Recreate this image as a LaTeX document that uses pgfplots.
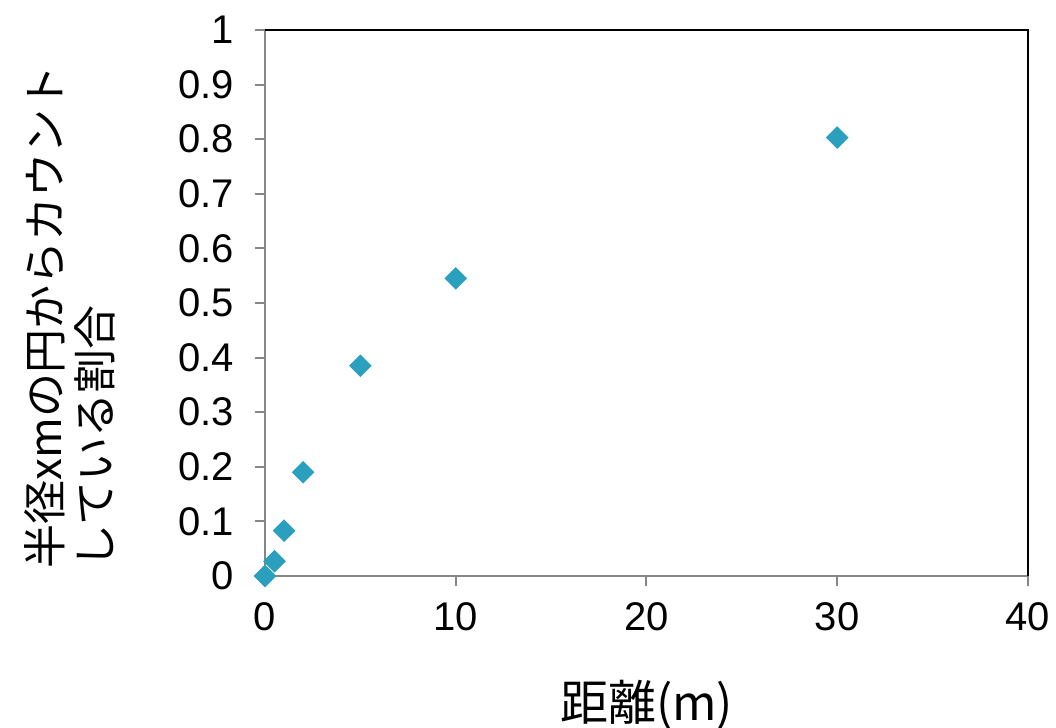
\documentclass[border=0pt]{standalone}
\usepackage{fontspec}
\setmainfont{Liberation Sans}
\newfontfamily\jp{Noto Sans CJK JP}
\usepackage{pgfplots}
\pgfplotsset{compat=1.18}
\definecolor{pt}{RGB}{43,160,190}
\definecolor{ax}{RGB}{134,134,134}
\begin{document}
\begin{tikzpicture}
\path[use as bounding box] (-132.5pt,-76pt) rectangle (395.5pt,288pt);
\begin{axis}[
  at={(0,0)}, anchor=origin,
  scale only axis, width=381.5pt, height=273pt,
  xmin=0, xmax=40, ymin=0, ymax=1,
  xtick={0,10,20,30,40},
  ytick={0,0.1,0.2,0.3,0.4,0.5,0.6,0.7,0.8,0.9,1},
  yticklabels={0,0.1,0.2,0.3,0.4,0.5,0.6,0.7,0.8,0.9,1},
  axis x line*=bottom, axis y line*=left,
  axis line style={ax, line width=1.3pt, -},
  tick align=outside, major tick length=5pt,
  tick style={ax, line width=1pt},
  /pgf/number format/assume math mode=true,
  tick label style={font=\fontsize{20pt}{24pt}\selectfont},
  xticklabel style={yshift=-5pt},
  yticklabel style={xshift=-7pt},
  xlabel={\jp 距離(m)},
  xlabel style={at={(rel axis cs:0.5,0)}, anchor=center, yshift=-64.5pt, font=\fontsize{24pt}{27pt}\selectfont},
  ylabel={\jp 半径xmの円からカウント\\\jp している割合},
  ylabel style={at={(rel axis cs:0,0.5)}, anchor=center, xshift=-7pt, yshift=97.5pt, align=left, font=\fontsize{22pt}{25pt}\selectfont},
  clip=false,
]
\draw[black, line width=0.6pt] (rel axis cs:0,1) -- (rel axis cs:1,1) -- (rel axis cs:1,0);
\addplot[only marks, mark=square*, mark size=3.8pt, mark options={rotate=45, fill=pt, draw=pt}]
coordinates {(0,0) (0.5,0.027) (1,0.083) (2,0.19) (5,0.385) (10,0.545) (30,0.803)};
\end{axis}
\end{tikzpicture}
\end{document}
